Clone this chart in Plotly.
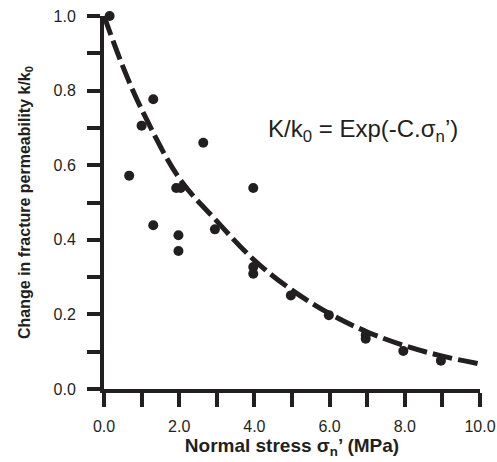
import plotly.graph_objects as go

# Measured data: normal stress (MPa) vs permeability ratio k/k0
stress = [0.15, 0.67, 1.0, 1.31, 1.31, 1.92, 2.04, 1.98, 1.98, 2.64, 2.95, 3.97, 3.97, 3.97,
          4.97, 5.98, 6.96, 6.96, 7.96, 8.96]
perm_ratio = [1.0, 0.572, 0.706, 0.777, 0.439, 0.539, 0.539, 0.412, 0.37, 0.66, 0.428, 0.539, 0.327, 0.309,
              0.251, 0.198, 0.145, 0.135, 0.102, 0.076]

# Fitted exponential curve
fit_x = [0, 0.5, 1, 2, 3, 4, 5, 6, 7, 8, 9, 10]
fit_y = [1.0, 0.865, 0.75, 0.565, 0.45, 0.345, 0.265, 0.202, 0.153, 0.116, 0.088, 0.067]

x_ticks = [0, 2, 4, 6, 8, 10]
y_ticks = [0.0, 0.2, 0.4, 0.6, 0.8, 1.0]

INK = "#231f20"
FONT = "Liberation Sans, Arial, sans-serif"

fig = go.Figure()
fig.add_trace(go.Scatter(
    x=fit_x, y=fit_y, mode="lines",
    line=dict(color=INK, width=5, dash="20px,6px", shape="spline", smoothing=1.0),
    cliponaxis=False, hoverinfo="skip", showlegend=False))
fig.add_trace(go.Scatter(
    x=stress, y=perm_ratio, mode="markers",
    marker=dict(color=INK, size=10, line=dict(width=0)),
    cliponaxis=False, showlegend=False))

fig.add_annotation(x=6.90, y=0.694, xref="x", yref="y",
                   text="K/k<sub>0</sub> = Exp(-C.σ<sub>n</sub>’)",
                   showarrow=False, font=dict(family=FONT, size=24, color=INK))

axis_common = dict(showline=True, linewidth=4, linecolor=INK, showgrid=False, zeroline=False,
                   ticks="outside", tickwidth=4, tickcolor=INK, mirror=False,
                   tickfont=dict(family=FONT, size=16, color=INK), tickformat=".1f")

fig.update_xaxes(range=[0, 10], tickvals=x_ticks, ticklen=14,
                 minor=dict(dtick=1, ticks="outside", ticklen=14, tickwidth=4, tickcolor=INK, tick0=0),
                 ticklabelstandoff=6,
                 title=dict(text="<b>Normal stress σ<sub>n</sub>’ (MPa)</b>",
                            font=dict(family=FONT, size=19, color=INK), standoff=5),
                 **axis_common)
fig.update_yaxes(range=[0, 1], tickvals=y_ticks, ticklen=13,
                 minor=dict(dtick=0.1, ticks="outside", ticklen=13, tickwidth=4, tickcolor=INK, tick0=0),
                 ticklabelstandoff=8,
                 title=dict(text="<b>Change in fracture permeability k/k<sub>0</sub></b>",
                            font=dict(family=FONT, size=16, color=INK), standoff=20),
                 **axis_common)

fig.update_layout(width=497, height=462, plot_bgcolor="white", paper_bgcolor="white",
                  margin=dict(l=104, r=17, t=16, b=73, autoexpand=False),
                  font=dict(family=FONT, color=INK))

fig.write_html("out.html", config={"displayModeBar": False},
               post_script="document.body.style.margin='0';")
